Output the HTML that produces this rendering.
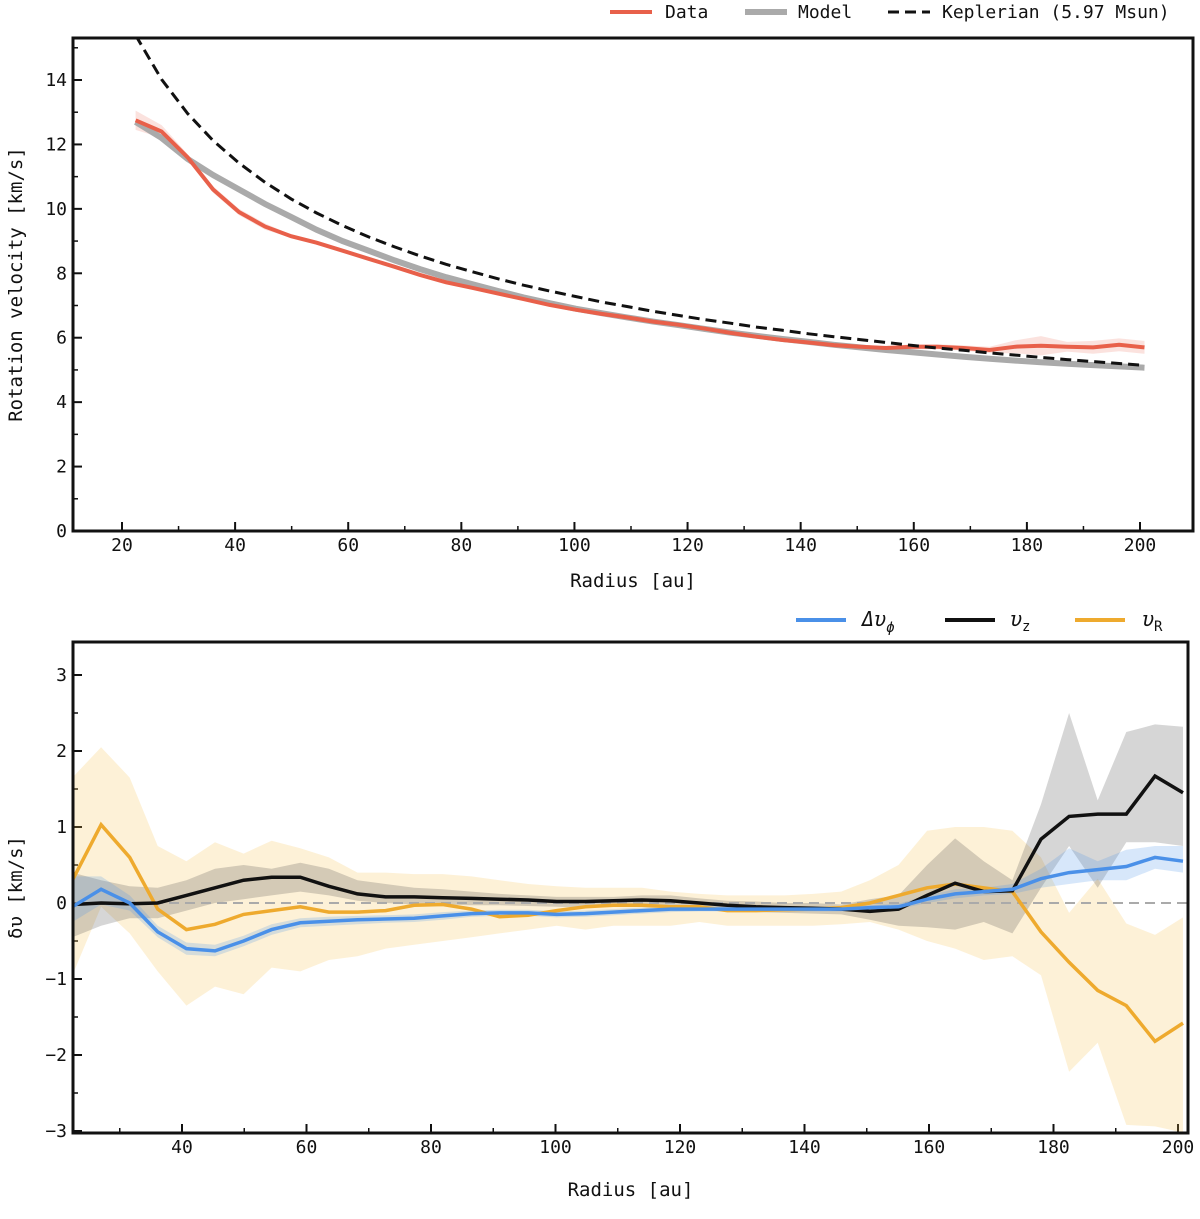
<!DOCTYPE html>
<html><head><meta charset="utf-8"><style>
body{margin:0;background:#fff;}
svg text{font-family:"DejaVu Sans Mono","Liberation Mono",monospace;fill:#111;}
</style></head><body>
<svg id="svg" width="1200" height="1214" xmlns="http://www.w3.org/2000/svg">
<g id="top"></g>
<g id="bot"></g>
</svg>
<script>
const radius=[22.4,27.0,31.6,36.1,40.7,45.3,49.9,54.4,59.0,63.6,68.2,72.7,77.3,81.9,86.5,91.0,95.6,100.2,104.8,109.3,113.9,118.5,123.1,127.6,132.2,136.8,141.4,145.9,150.5,155.1,159.7,164.2,168.8,173.4,178.0,182.5,187.1,191.7,196.3,200.8];
const vData=[12.75,12.4,11.6,10.6,9.9,9.45,9.15,8.95,8.7,8.45,8.2,7.95,7.72,7.55,7.37,7.2,7.02,6.87,6.74,6.63,6.5,6.4,6.28,6.15,6.03,5.93,5.85,5.77,5.72,5.68,5.72,5.72,5.68,5.62,5.72,5.75,5.72,5.7,5.78,5.7];
const vDataErr=[0.3,0.2,0.1,0.1,0.1,0.1,0.05,0.05,0.05,0.05,0.05,0.05,0.05,0.05,0.05,0.05,0.05,0.05,0.05,0.05,0.05,0.05,0.05,0.05,0.05,0.05,0.05,0.05,0.05,0.05,0.08,0.08,0.08,0.1,0.2,0.3,0.15,0.2,0.2,0.2];
const vModel=[12.7,12.2,11.55,11.05,10.6,10.15,9.75,9.35,9.0,8.7,8.4,8.13,7.88,7.66,7.45,7.25,7.07,6.9,6.76,6.63,6.5,6.39,6.27,6.16,6.06,5.96,5.87,5.78,5.7,5.62,5.55,5.48,5.41,5.35,5.29,5.24,5.19,5.15,5.11,5.07];
const vKep=[15.39,14.02,12.96,12.12,11.42,10.82,10.31,9.87,9.48,9.13,8.82,8.54,8.28,8.05,7.83,7.63,7.45,7.28,7.11,6.97,6.82,6.69,6.56,6.45,6.33,6.23,6.12,6.03,5.94,5.85,5.76,5.68,5.61,5.53,5.46,5.39,5.32,5.26,5.2,5.14];
const dPhi=[-0.05,0.18,0.0,-0.38,-0.6,-0.63,-0.5,-0.35,-0.26,-0.24,-0.22,-0.21,-0.2,-0.17,-0.14,-0.13,-0.13,-0.15,-0.14,-0.12,-0.1,-0.08,-0.08,-0.08,-0.08,-0.08,-0.08,-0.08,-0.06,-0.05,0.05,0.12,0.15,0.18,0.32,0.4,0.44,0.48,0.6,0.55];
const dPhiHi=[0.35,0.35,0.1,-0.3,-0.52,-0.55,-0.43,-0.28,-0.2,-0.18,-0.17,-0.16,-0.15,-0.12,-0.1,-0.09,-0.09,-0.11,-0.1,-0.08,-0.06,-0.05,-0.05,-0.05,-0.05,-0.05,-0.05,-0.05,-0.03,-0.01,0.1,0.18,0.2,0.25,0.45,0.72,0.55,0.7,0.75,0.75];
const dPhiLo=[-0.25,-0.02,-0.1,-0.45,-0.68,-0.7,-0.57,-0.42,-0.32,-0.3,-0.28,-0.26,-0.25,-0.22,-0.18,-0.17,-0.17,-0.19,-0.18,-0.16,-0.14,-0.12,-0.11,-0.11,-0.11,-0.11,-0.11,-0.11,-0.09,-0.08,0.0,0.06,0.1,0.12,0.2,0.25,0.3,0.3,0.45,0.4];
const vZ=[-0.02,0.0,-0.01,0.0,0.1,0.2,0.3,0.34,0.34,0.22,0.12,0.08,0.08,0.07,0.06,0.05,0.04,0.02,0.02,0.03,0.04,0.03,0.0,-0.03,-0.05,-0.06,-0.07,-0.08,-0.11,-0.08,0.1,0.26,0.15,0.16,0.84,1.14,1.17,1.17,1.67,1.45];
const vZHi=[0.4,0.3,0.22,0.2,0.3,0.45,0.5,0.45,0.53,0.45,0.3,0.25,0.2,0.18,0.15,0.12,0.1,0.08,0.08,0.08,0.1,0.1,0.06,0.03,0.02,0.0,0.0,-0.02,0.05,0.1,0.5,0.85,0.55,0.3,1.3,2.5,1.35,2.25,2.35,2.32];
const vZLo=[-0.45,-0.3,-0.2,-0.2,-0.1,0.0,0.05,0.1,0.15,0.1,0.03,0.0,-0.02,-0.02,-0.03,-0.03,-0.04,-0.05,-0.06,-0.05,-0.04,-0.04,-0.06,-0.09,-0.12,-0.13,-0.14,-0.15,-0.22,-0.3,-0.32,-0.35,-0.25,-0.4,0.2,0.75,0.2,0.8,0.8,0.75];
const vR=[0.3,1.03,0.6,-0.08,-0.35,-0.28,-0.15,-0.1,-0.05,-0.12,-0.12,-0.1,-0.03,-0.02,-0.08,-0.18,-0.16,-0.1,-0.05,-0.03,-0.03,-0.05,-0.05,-0.1,-0.1,-0.09,-0.08,-0.06,0.0,0.1,0.2,0.25,0.2,0.15,-0.38,-0.78,-1.15,-1.35,-1.82,-1.58];
const vRHi=[1.65,2.05,1.65,0.75,0.55,0.8,0.65,0.82,0.72,0.6,0.4,0.4,0.38,0.38,0.35,0.3,0.25,0.22,0.2,0.2,0.2,0.15,0.12,0.1,0.1,0.1,0.12,0.15,0.3,0.5,0.95,1.0,1.0,0.95,0.6,-0.13,0.32,-0.27,-0.42,-0.19];
const vRLo=[-0.95,-0.05,-0.4,-0.9,-1.35,-1.1,-1.2,-0.85,-0.9,-0.75,-0.7,-0.6,-0.55,-0.5,-0.45,-0.4,-0.35,-0.3,-0.35,-0.3,-0.3,-0.3,-0.25,-0.3,-0.3,-0.3,-0.3,-0.28,-0.25,-0.35,-0.5,-0.6,-0.75,-0.7,-0.95,-2.22,-1.84,-2.92,-2.94,-3.02];
const topXTicks=[20,40,60,80,100,120,140,160,180,200];
const topYTicks=[0,2,4,6,8,10,12,14];
const botXTicks=[40,60,80,100,120,140,160,180,200];
const botYTicks=[-3,-2,-1,0,1,2,3];

const NS='http://www.w3.org/2000/svg';
function mk(parent,tag,attrs,txt){const e=document.createElementNS(NS,tag);for(const k in attrs)e.setAttribute(k,attrs[k]);if(txt!==undefined)e.textContent=txt;parent.appendChild(e);return e;}
function lin(d0,d1,p0,p1){return v=>p0+(v-d0)*(p1-p0)/(d1-d0);}

function axes(g,box,xs,ys,xT,yT,xMin,yMin,xLab,yLab,cid,xLabOff){
  const [L,T,R,B]=box;
  mk(mk(g,'clipPath',{id:cid}),'rect',{x:L,y:T,width:R-L,height:B-T});
  xMin.forEach(v=>{const x=xs(v);if(x>L&&x<R){const t=mk(g,'line',{x1:x,x2:x,y1:B,y2:B-5,stroke:'#111','stroke-width':1.5});}});
  yMin.forEach(v=>{const y=ys(v);if(y>T&&y<B){const t=mk(g,'line',{x1:L,x2:L+5,y1:y,y2:y,stroke:'#111','stroke-width':1.5});}});
  xT.forEach(v=>{const x=xs(v);const t=mk(g,'line',{x1:x,x2:x,y1:B,y2:B-9,stroke:'#111','stroke-width':2});
    const l=mk(g,'text',{x:x,y:B+20,'text-anchor':'middle','font-size':18},String(v));});
  yT.forEach(v=>{const y=ys(v);const t=mk(g,'line',{x1:L,x2:L+9,y1:y,y2:y,stroke:'#111','stroke-width':2});
    const l=mk(g,'text',{x:L-6,y:y+6,'text-anchor':'end','font-size':18},v<0?'\u2212'+(-v):String(v));});
  const xl=mk(g,'text',{x:(L+R)/2,y:B+xLabOff,'text-anchor':'middle','font-size':19},xLab);
  const yl=mk(g,'text',{x:0,y:0,'text-anchor':'middle','font-size':19,transform:`translate(22,${(T+B)/2}) rotate(-90)`},yLab);
}
function frame(g,box){const [L,T,R,B]=box;const f=mk(g,'rect',{x:L,y:T,width:R-L,height:B-T,fill:'none',stroke:'#111','stroke-width':3});}
function linePath(xs,ys,vals){return vals.map((v,i)=>(i?'L':'M')+xs(radius[i]).toFixed(1)+','+ys(v).toFixed(1)).join('');}
function bandPath(xs,ys,hi,lo){let d=hi.map((v,i)=>(i?'L':'M')+xs(radius[i]).toFixed(1)+','+ys(v).toFixed(1)).join('');for(let i=lo.length-1;i>=0;i--)d+='L'+xs(radius[i]).toFixed(1)+','+ys(lo[i]).toFixed(1);return d+'Z';}

// TOP
const gT=document.getElementById('top');
const boxT=[73,38,1193,531];
const xsT=lin(20,200,122,1140), ysT=lin(0,14,531,80);
const mnT=[];for(let v=10;v<=210;v+=10)mnT.push(v);
const mnTy=[];for(let v=1;v<=15;v+=2)mnTy.push(v);
axes(gT,boxT,xsT,ysT,topXTicks,topYTicks,mnT,mnTy,'Radius [au]','Rotation velocity [km/s]','clipT',56);
const gTd=mk(gT,'g',{'clip-path':'url(#clipT)'});
const dataHi=vData.map((v,i)=>v+vDataErr[i]), dataLo=vData.map((v,i)=>v-vDataErr[i]);
let e;
e=mk(gTd,'path',{d:bandPath(xsT,ysT,dataHi,dataLo),fill:'#e8604a','fill-opacity':0.18});
e=mk(gTd,'path',{d:linePath(xsT,ysT,vModel),fill:'none',stroke:'#aaaaaa','stroke-width':6});
e=mk(gTd,'path',{d:linePath(xsT,ysT,vData),fill:'none',stroke:'#e8604a','stroke-width':4});
e=mk(gTd,'path',{d:linePath(xsT,ysT,vKep),fill:'none',stroke:'#111','stroke-width':3,'stroke-dasharray':'11,6'});
frame(gT,boxT);
const legT=mk(gT,'g',{});
e=mk(legT,'line',{x1:610,x2:652,y1:12,y2:12,stroke:'#e8604a','stroke-width':4});
e=mk(legT,'text',{x:665,y:18,'font-size':18},'Data');
e=mk(legT,'line',{x1:745,x2:787,y1:12,y2:12,stroke:'#aaaaaa','stroke-width':6});
e=mk(legT,'text',{x:798,y:18,'font-size':18},'Model');
e=mk(legT,'line',{x1:888,x2:930,y1:12,y2:12,stroke:'#111','stroke-width':3,'stroke-dasharray':'11,6'});
e=mk(legT,'text',{x:942,y:18,'font-size':18},'Keplerian (5.97 Msun)');

// BOTTOM
const gB=document.getElementById('bot');
const boxB=[73,642,1188,1133];
const xsB=lin(40,200,182,1178), ysB=lin(0,3,903,675);
const mnB=[];for(let v=30;v<=200;v+=10)mnB.push(v);
const mnBy=[];for(let v=-2.5;v<=3.5;v+=1)mnBy.push(v);
axes(gB,boxB,xsB,ysB,botXTicks,botYTicks,mnB,mnBy,'Radius [au]','\u03b4\u03c5 [km/s]','clipB',63);
const gBd=mk(gB,'g',{'clip-path':'url(#clipB)'});
e=mk(gBd,'path',{d:bandPath(xsB,ysB,vRHi,vRLo),fill:'#f5c04a','fill-opacity':0.22});
e=mk(gBd,'path',{d:bandPath(xsB,ysB,vZHi,vZLo),fill:'#333','fill-opacity':0.2});
e=mk(gBd,'path',{d:bandPath(xsB,ysB,dPhiHi,dPhiLo),fill:'#4a90e8','fill-opacity':0.22});
e=mk(gBd,'line',{x1:73,x2:1188,y1:ysB(0),y2:ysB(0),stroke:'#aaa','stroke-width':2,'stroke-dasharray':'10,6'});
e=mk(gBd,'path',{d:linePath(xsB,ysB,vR),fill:'none',stroke:'#eeaa2e','stroke-width':3.5});
e=mk(gBd,'path',{d:linePath(xsB,ysB,vZ),fill:'none',stroke:'#111','stroke-width':3.5});
e=mk(gBd,'path',{d:linePath(xsB,ysB,dPhi),fill:'none',stroke:'#4a90e8','stroke-width':3.5});
frame(gB,boxB);
const legB=mk(gB,'g',{});
e=mk(legB,'line',{x1:796,x2:846,y1:620,y2:620,stroke:'#4a90e8','stroke-width':4});
e=mk(legB,'text',{x:862,y:626,'font-size':20,'font-family':'"DejaVu Serif",serif','font-style':'italic'},'\u0394\u03c5');
mk(e,'tspan',{'font-size':14,dy:6},'\u03d5');
e=mk(legB,'line',{x1:945,x2:995,y1:620,y2:620,stroke:'#111','stroke-width':4});
e=mk(legB,'text',{x:1010,y:626,'font-size':20,'font-family':'"DejaVu Serif",serif','font-style':'italic'},'\u03c5');
mk(e,'tspan',{'font-size':14,dy:5,'font-style':'normal'},'z');
e=mk(legB,'line',{x1:1075,x2:1125,y1:620,y2:620,stroke:'#eeaa2e','stroke-width':4});
e=mk(legB,'text',{x:1142,y:626,'font-size':20,'font-family':'"DejaVu Serif",serif','font-style':'italic'},'\u03c5');
mk(e,'tspan',{'font-size':14,dy:5,'font-style':'normal'},'R');
</script>
</body></html>
